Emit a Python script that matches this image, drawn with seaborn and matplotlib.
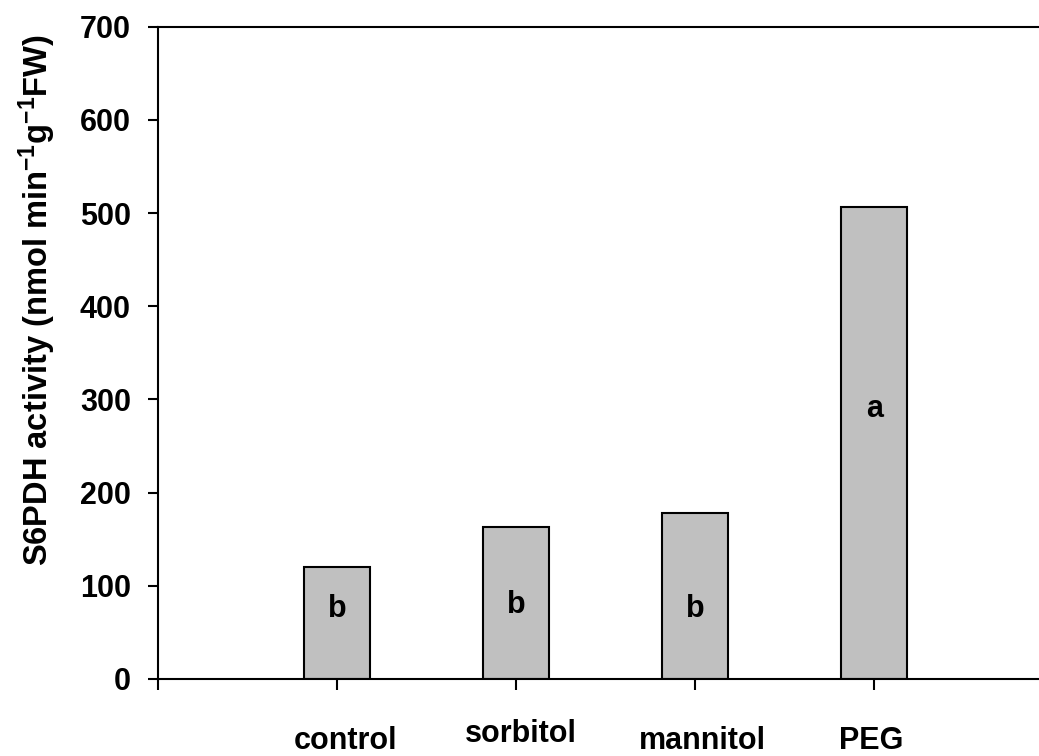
import matplotlib
matplotlib.use("Agg")
import matplotlib.pyplot as plt
import matplotlib.transforms as mtransforms
import seaborn as sns
import pandas as pd

# ---- data ----
categories = ["control", "sorbitol", "mannitol", "PEG"]
activity = [120, 163, 178, 506]
letters = ["b", "b", "b", "a"]
letter_y = [67, 71, 67, 281]
y_ticks = [0, 100, 200, 300, 400, 500, 600, 700]

df = pd.DataFrame({"treatment": categories, "activity": activity})

sns.set_style("white")
plt.rcParams["font.family"] = ["Liberation Sans", "DejaVu Sans"]
plt.rcParams["font.weight"] = "bold"
plt.rcParams["text.color"] = "black"
plt.rcParams["axes.labelcolor"] = "black"
plt.rcParams["xtick.color"] = "black"
plt.rcParams["ytick.color"] = "black"
plt.rcParams["mathtext.fontset"] = "custom"
plt.rcParams["mathtext.rm"] = "Liberation Sans:bold"
plt.rcParams["mathtext.bf"] = "Liberation Sans:bold"
plt.rcParams["mathtext.it"] = "Liberation Sans:bold"

fig = plt.figure(figsize=(10.39, 7.56), dpi=100)
ax = fig.add_axes([0.1521, 0.1019, 0.86, 0.8628])

sns.barplot(data=df, x="treatment", y="activity", order=categories,
            color="#C0C0C0", saturation=1, width=0.37,
            edgecolor="black", linewidth=1.5, errorbar=None, ax=ax)

for i, (lab, ly) in enumerate(zip(letters, letter_y)):
    ax.text(i, ly, lab, ha="center", va="baseline", fontsize=22,
            fontweight="bold", color="black")

ax.set_xlim(-1, 3.99)
ax.set_ylim(0, 700)
ax.set_yticks(y_ticks)
ax.set_yticklabels([str(v) for v in y_ticks], fontsize=22, fontweight="bold",
                   color="black")

ax.set_xticks([-1, 0, 1, 2, 3])
ax.set_xticklabels([""] + categories, fontsize=22, fontweight="bold",
                   color="black")
ax.tick_params(axis="x", direction="out", length=8, width=1.5, pad=26,
               bottom=True, colors="black")
ax.tick_params(axis="y", direction="out", length=7.5, width=1.5, pad=12,
               left=True, colors="black")

# stagger category labels as in the reference
offsets = [(6, 0), (3, 5), (5, 0), (-2, 0)]
for lab, (dx, dy) in zip(ax.get_xticklabels()[1:], offsets):
    lab.set_transform(lab.get_transform() +
                      mtransforms.ScaledTranslation(dx / 72, dy / 72, fig.dpi_scale_trans))

ax.set_xlabel("")
ax.set_ylabel(r"S6PDH activity (nmol min$^{-1}$g$^{-1}$FW)", fontsize=23.5,
              fontweight="bold", color="black")
ax.yaxis.set_label_coords(-0.112, 0.58)

for side in ["left", "bottom", "top"]:
    ax.spines[side].set_visible(True)
    ax.spines[side].set_linewidth(1.5)
    ax.spines[side].set_color("black")
ax.spines["right"].set_visible(False)

fig.savefig("out.png", dpi=100)
